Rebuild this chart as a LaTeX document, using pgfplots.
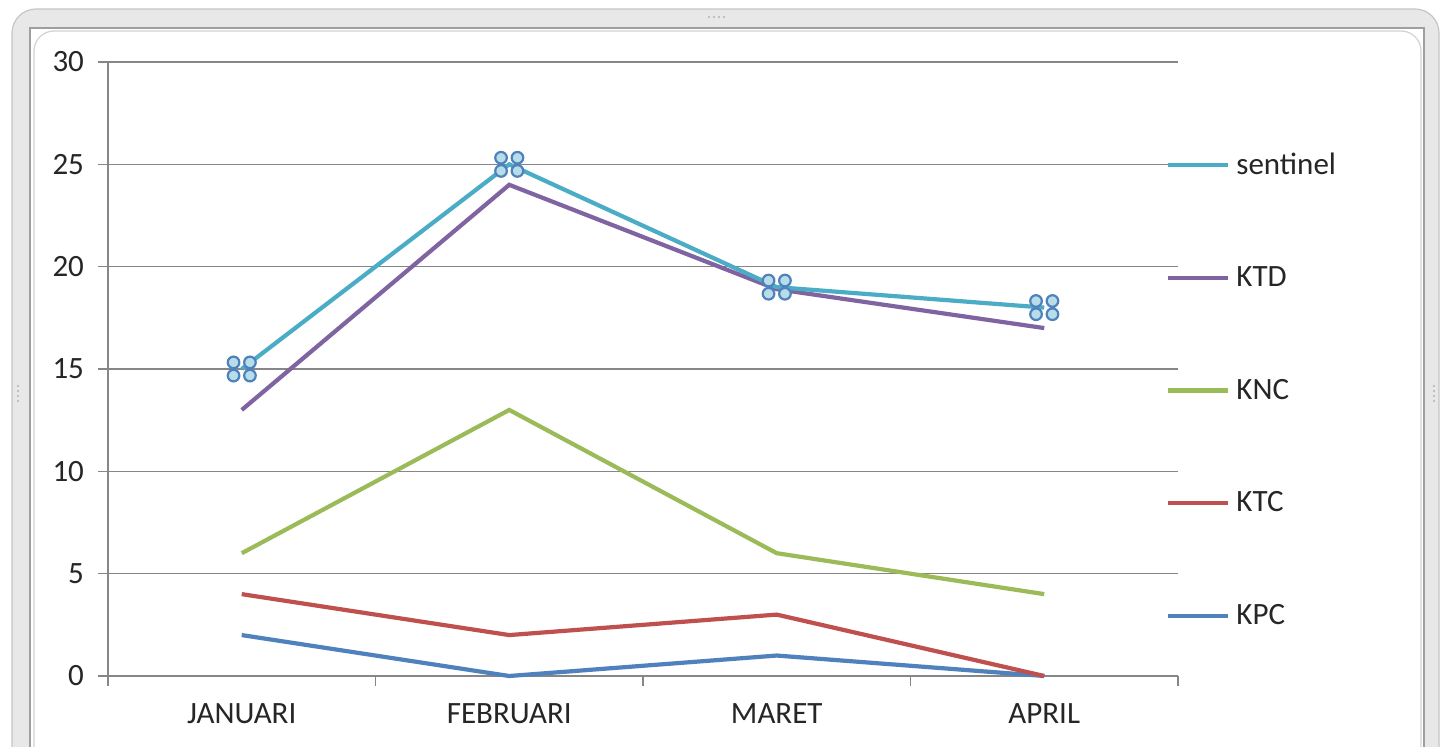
\documentclass[border=0pt]{standalone}
\usepackage{pgfplots}
\pgfplotsset{compat=1.18}
\usepackage{fontspec}
\setmainfont{Carlito}
\definecolor{cSen}{HTML}{4BACC6}
\definecolor{cKTD}{HTML}{8064A2}
\definecolor{cKNC}{HTML}{9BBB59}
\definecolor{cKTC}{HTML}{C0504D}
\definecolor{cKPC}{HTML}{4F81BD}
\definecolor{gridc}{HTML}{868686}
\pgfdeclareplotmark{quadc}{%
  \pgfpathcircle{\pgfpoint{-4.1pt}{3.3pt}}{2.9pt}%
  \pgfpathcircle{\pgfpoint{4.1pt}{3.3pt}}{2.9pt}%
  \pgfpathcircle{\pgfpoint{-4.1pt}{-3.3pt}}{2.9pt}%
  \pgfpathcircle{\pgfpoint{4.1pt}{-3.3pt}}{2.9pt}%
  \pgfusepathqfillstroke}
\pgfplotstableread{
x sen ktd knc ktc kpc
0 15 13 6 4 2
1 25 24 13 2 0
2 19 18.9 6 3 1
3 18 17 4 0 0
}\data
\begin{document}
\begin{tikzpicture}
\useasboundingbox (0pt,0pt) rectangle (720.5pt,373pt);
\begin{scope}[x=0.5pt,y=-0.5pt,yshift=373pt]
\clip (0,0) rectangle (1441,746);
\fill[gray!18, rounded corners=12pt] (12,9) rectangle (1439,800);
\draw[gray!45, line width=0.6pt, rounded corners=12pt] (12,9) rectangle (1439,800);
\fill[white] (30,28) rectangle (1424,800);
\draw[gray!75, line width=0.8pt] (30,800) -- (30,28) -- (1424,28) -- (1424,800);
\draw[gray!35, line width=0.6pt, rounded corners=10pt] (34,800) -- (34,31) -- (1421,31) -- (1421,800);
\foreach \xx in {709,714,719,724} \fill[gray!60] (\xx,17) circle (1.2);
\foreach \yy in {386,391,396,401} {\fill[gray!60] (18,\yy) circle (1.2); \fill[gray!60] (1434,\yy) circle (1.2);}
\end{scope}
\begin{axis}[
  at={(54pt,35pt)}, anchor=south west,
  scale only axis, width=535pt, height=307pt,
  xmin=-0.5, xmax=3.5, ymin=0, ymax=30,
  ytick={0,5,...,30},
  xtick={-0.5,0.5,1.5,2.5,3.5}, xticklabels={},
  extra x ticks={0,1,2,3},
  extra x tick labels={JANUARI,FEBRUARI,MARET,APRIL},
  extra x tick style={major tick length=0pt, tick label style={yshift=-10.5pt}},
  axis lines*=left,
  axis line style={-, gridc, line width=0.8pt},
  tick style={gridc, line width=0.8pt},
  tick align=outside, major tick length=5pt,
  ymajorgrids, grid style={gridc, line width=0.8pt},
  tick label style={font=\fontsize{15.5}{18}\selectfont, text=black!85},
  /pgf/number format/assume math mode=true,
  yticklabel style={xshift=-3.5pt},
  clip=false,
  reverse legend,
  legend cell align=left,
  legend style={at={(0.983,0.863)}, anchor=north west, draw=none, fill=none,
     row sep=42.75pt, font=\fontsize{15.5}{18}\selectfont, text=black!85,
     nodes={inner sep=1pt}, column sep=2pt},
  legend image code/.code={\draw[#1, mark=none] (0pt,0pt) -- (30pt,0pt);},
]
\addplot[cKPC, line width=2.1pt, mark=none] table[x=x,y=kpc] {\data};
\addlegendentry{KPC}
\addplot[cKTC, line width=2.1pt, mark=none] table[x=x,y=ktc] {\data};
\addlegendentry{KTC}
\addplot[cKNC, line width=2.1pt, mark=none] table[x=x,y=knc] {\data};
\addlegendentry{KNC}
\addplot[cKTD, line width=2.1pt, mark=none] table[x=x,y=ktd] {\data};
\addlegendentry{KTD}
\addplot[cSen, line width=2.1pt, mark=quadc, mark options={fill=cSen!40, draw=cKPC, line width=1.1pt}] table[x=x,y=sen] {\data};
\addlegendentry{sentinel}
\end{axis}
\end{tikzpicture}
\end{document}
